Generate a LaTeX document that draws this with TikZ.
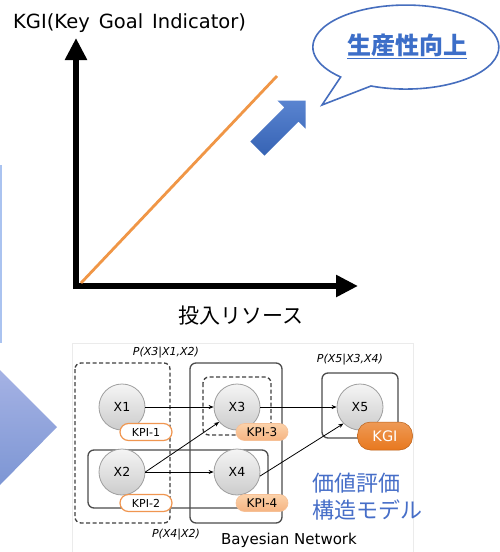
\documentclass[tikz,border=0pt]{standalone}
\usepackage{fontspec}
\setmainfont{Noto Sans CJK JP}
\newfontfamily\latin{DejaVu Sans}
\newfontfamily\slfont{DejaVu Sans Oblique}
\usetikzlibrary{arrows.meta,shapes.geometric}
\definecolor{axorange}{RGB}{240,150,70}
\definecolor{bluearr}{RGB}{60,110,200}
\definecolor{bubble}{RGB}{70,110,190}
\definecolor{jpblue}{RGB}{70,110,200}
\definecolor{kpiorange}{RGB}{240,150,80}
\definecolor{kgiorange}{RGB}{232,120,30}
\definecolor{thinblue}{RGB}{170,195,240}
\tikzset{
  axis/.style={line width=6pt,-{Triangle[width=21pt,length=22pt]}},
  var/.style={circle,minimum size=46pt,inner sep=0pt,draw=gray!75,line width=0.8pt,
              top color=gray!8,bottom color=gray!40,font=\latin\fontsize{12.5}{15}\selectfont},
  kpiw/.style={rectangle,rounded corners=8.5pt,minimum width=52pt,minimum height=17pt,inner sep=0pt,
               draw=kpiorange,line width=1.2pt,fill=white,font=\latin\fontsize{11}{13}\selectfont},
  kpif/.style={rectangle,rounded corners=8.5pt,minimum width=52pt,minimum height=17pt,inner sep=0pt,
               draw=kpiorange!60,line width=0.6pt,top color={rgb,255:red,252;green,210;blue,170},
               bottom color={rgb,255:red,245;green,180;blue,130},
               font=\latin\fontsize{12}{14}\selectfont},
  kgi/.style={rectangle,rounded corners=13pt,minimum width=55pt,minimum height=28pt,inner sep=0pt,
              draw=kgiorange!80!black,line width=0.5pt,top color=kgiorange!75,bottom color=kgiorange,
              text=white,font=\latin\fontsize{14.5}{17}\selectfont},
  dbox/.style={draw=black!75,dashed,dash pattern=on 4pt off 2.5pt,line width=1.3pt,rounded corners=6pt},
  sbox/.style={draw=black!70,line width=1.3pt,rounded corners=6pt},
  link/.style={draw=black,line width=0.8pt,-{Stealth[length=5pt,width=4pt]}},
  cond/.style={font=\slfont\fontsize{11}{13}\selectfont,inner sep=0pt},
}
\begin{document}
\begin{tikzpicture}[x=1pt,y=-1pt]
\useasboundingbox (0,0) rectangle (499,552);
\fill[white] (0,0) rectangle (499,552);

% left decoration
\fill[thinblue] (0,165) rectangle (2,343);
\shade[top color={rgb,255:red,165;green,178;blue,228},bottom color={rgb,255:red,125;green,150;blue,212}]
  (0,370) -- (57,427) -- (0,485) -- cycle;

% title
\node[anchor=west,inner sep=0pt,font=\latin\fontsize{19.5}{22}\selectfont] (title) at (13,23)
  {KGI(Key\hspace{9pt}Goal\hspace{9pt}Indicator)};

% axes
\coordinate (o) at (76,289);
\coordinate (ytop) at (76,38);
\coordinate (o2) at (73,286);
\coordinate (xend) at (358,286);
\draw[axis] (o) -- (ytop);
\draw[axis] (o2) -- (xend);
\node[inner sep=0pt,font=\fontsize{21}{24}\selectfont] (xlab) at (241,316) {投入リソース};

% orange line
\coordinate (l0) at (81,283);
\coordinate (l1) at (277,76);
\draw[axorange,line width=2.8pt] (l0) -- (l1);

% blue arrow
\shade[top color=bluearr!85!white,bottom color=bluearr!90!black]
  (250.4,141.4) -- (284.3,107.5) -- (277.3,100.5) -- (305.5,100.5) -- (305.5,128.7)
  -- (298.5,121.7) -- (264.6,155.6) -- cycle;

% speech bubble
\draw[bubble,line width=1.6pt,fill=white]
  (371,86) arc[start angle=112,end angle=-225.5,x radius=93,y radius=42] -- (322,105) -- cycle;
\node[inner sep=0pt,text=bluearr,font=\bfseries\fontsize{24}{27}\selectfont] (goal) at (407,46)
  {\underline{生産性向上}};

% network panel
\draw[black!8,line width=0.8pt] (72,552) -- (72,343) -- (413,343) -- (413,552);

\draw[dbox] (75,363) rectangle (170,523);
\draw[sbox] (190,363) rectangle (282,523);
\draw[dbox] (203,377) rectangle (271,435);
\draw[sbox] (88,450) rectangle (268,508);
\draw[sbox] (322,373) rectangle (398,438);

\node[var] (x1) at (122,407) {X1};
\node[var] (x3) at (237,407) {X3};
\node[var] (x2) at (122,472) {X2};
\node[var] (x4) at (237,472) {X4};
\node[var] (x5) at (360,407) {X5};

\draw[link] (x1) -- (x3);
\draw[link] (x3) -- (x5);
\draw[link] (x2.east) -- (x3.220);
\draw[link] (x2) -- (x4);
\draw[link] (x4.-10) -- (x5.225);

\node[kpiw] (k1) at (146,432) {KPI-1};
\node[kpif] (k3) at (262,432) {KPI-3};
\node[kpiw] (k2) at (146,503) {KPI-2};
\node[kpif] (k4) at (262,503) {KPI-4};
\node[kgi] (kg) at (385,436) {KGI};

\node[cond] (c1) at (166,353) {P(X3|X1,X2)};
\node[cond] (c2) at (176,535) {P(X4|X2)};
\node[cond] (c3) at (350,360) {P(X5|X3,X4)};
\node[inner sep=0pt,font=\latin\fontsize{15}{17}\selectfont] (bn) at (289,540) {Bayesian Network};
\node[anchor=west,inner sep=0pt,text=jpblue,font=\fontsize{22}{24}\selectfont] (v1) at (312,483) {価値評価};
\node[anchor=west,inner sep=0pt,text=jpblue,font=\fontsize{22}{24}\selectfont] (v2) at (312,510) {構造モデル};
\end{tikzpicture}
\end{document}
